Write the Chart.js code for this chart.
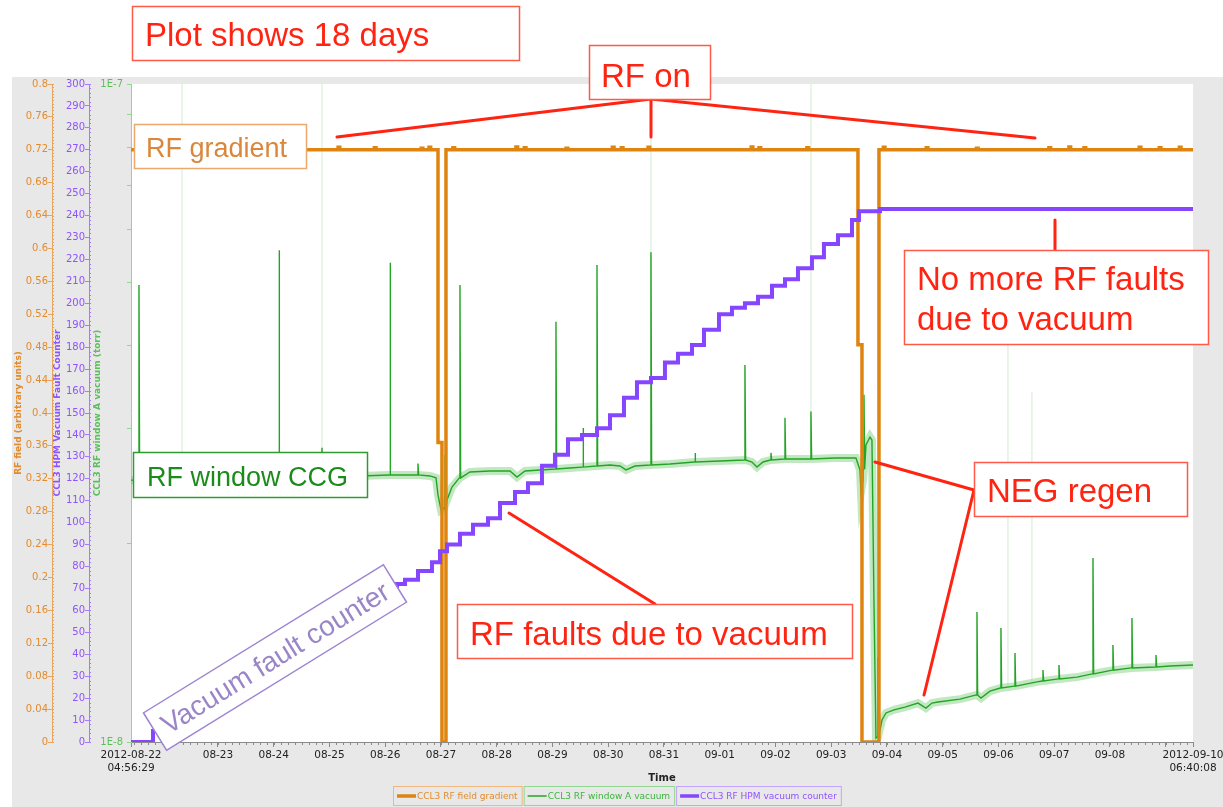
<!DOCTYPE html>
<html>
<head>
<meta charset="utf-8">
<title>CCL3 RF window vacuum – 18 days</title>
<script src="https://cdn.jsdelivr.net/npm/chart.js@4.4.1/dist/chart.umd.min.js"></script>
<style>
  html, body { margin: 0; padding: 0; background: #ffffff; }
  #wrap { position: relative; width: 1223px; height: 807px; }
</style>
</head>
<body>
<div id="wrap"><canvas id="vacChart" width="1223" height="807"></canvas></div>
<script>
// =============================================================================
// CCL3 RF window — gradient, window vacuum and HPM fault counter (18 days)
// x values are days since 2012-08-22 04:56:29
// =============================================================================

// ---------- x axis ----------
const X_MAX = 19.05;
const tickDays = [0, 1.56, 2.56, 3.56, 4.56, 5.56, 6.56, 7.56, 8.56, 9.56, 10.56,
                  11.56, 12.56, 13.56, 14.56, 15.56, 16.56, 17.56, 18.56, 19.05];
const tickLabels = [['2012-08-22', '04:56:29'], '08-23', '08-24', '08-25', '08-26', '08-27',
                    '08-28', '08-29', '08-30', '08-31', '09-01', '09-02', '09-03', '09-04',
                    '09-05', '09-06', '09-07', '09-08', '', ['2012-09-10', '06:40:08']];

// ---------- y axis ticks ----------
const rfTicks = [0, 0.04, 0.08, 0.12, 0.16, 0.2, 0.24, 0.28, 0.32, 0.36, 0.4,
                 0.44, 0.48, 0.52, 0.56, 0.6, 0.64, 0.68, 0.72, 0.76, 0.8];
const counterTicks = [0, 10, 20, 30, 40, 50, 60, 70, 80, 90, 100, 110, 120, 130, 140, 150,
                      160, 170, 180, 190, 200, 210, 220, 230, 240, 250, 260, 270, 280, 290, 300];
const vacTicks = [1e-8, 2e-8, 3e-8, 4e-8, 5e-8, 6e-8, 7e-8, 8e-8, 9e-8, 1e-7];

// ---------- CCL3 RF field gradient ----------
const rfDays  = [0, 5.507, 5.507, 5.578, 5.578, 5.650, 5.650, 13.040, 13.040, 13.112, 13.112, 13.417, 13.417, 19.05];
const rfField = [0.72, 0.72, 0.364, 0.364, 0, 0, 0.72, 0.72, 0.483, 0.483, 0, 0, 0.72, 0.72];
// little blips on the 0.72 plateau
const rfBumpDays = [3.73, 4.38, 5.22, 5.36, 5.79, 6.92, 7.07, 7.82, 8.65, 8.81, 9.29, 11.14,
                    11.28, 12.14, 13.51, 14.28, 15.18, 16.48, 16.84, 17.11, 18.10, 18.46, 18.82];
const rfBumpTop  = [0.723, 0.7225, 0.722, 0.723, 0.7225, 0.7235, 0.7225, 0.722, 0.723, 0.7225, 0.723, 0.7235,
                    0.7225, 0.7225, 0.723, 0.7225, 0.722, 0.7225, 0.7235, 0.7225, 0.723, 0.7225, 0.723];

// ---------- CCL3 RF window A vacuum (torr) ----------
const vacDays = [0, 0.879, 1.238, 2.655, 3.426, 4.108, 4.646, 5.148, 5.363, 5.471,
                 5.507, 5.561, 5.614, 5.668, 5.758, 5.901, 6.081, 6.439, 6.798, 6.924,
                 7.067, 7.336, 7.623, 7.874, 8.108, 8.359, 8.592, 8.771, 8.879, 9.040,
                 9.327, 9.668, 10.117, 10.565, 11.013, 11.139, 11.229, 11.336, 11.480, 11.731,
                 12.197, 12.628, 13.004, 13.076, 13.094, 13.130, 13.184, 13.256, 13.291, 13.327,
                 13.363, 13.399, 13.471, 13.543, 13.686, 13.883, 14.117, 14.260, 14.368, 14.475,
                 14.870, 15.175, 15.247, 15.408, 15.605, 15.857, 16.251, 16.359, 16.646, 16.969,
                 17.256, 17.614, 17.955, 18.386, 18.637, 19.05];
const vacTorr = [2.50e-8, 2.51e-8, 2.51e-8, 2.52e-8, 2.527e-8, 2.537e-8, 2.546e-8, 2.546e-8, 2.537e-8, 2.52e-8,
                 2.374e-8, 2.253e-8, 2.268e-8, 2.332e-8, 2.441e-8, 2.52e-8, 2.573e-8, 2.582e-8, 2.582e-8, 2.527e-8,
                 2.582e-8, 2.591e-8, 2.600e-8, 2.608e-8, 2.617e-8, 2.627e-8, 2.636e-8, 2.627e-8, 2.591e-8, 2.627e-8,
                 2.636e-8, 2.645e-8, 2.664e-8, 2.673e-8, 2.683e-8, 2.664e-8, 2.617e-8, 2.664e-8, 2.683e-8, 2.692e-8,
                 2.692e-8, 2.702e-8, 2.702e-8, 2.591e-8, 2.399e-8, 2.50e-8, 2.828e-8, 2.907e-8, 2.877e-8, 1.644e-8,
                 1.014e-8, 1.018e-8, 1.080e-8, 1.107e-8, 1.119e-8, 1.130e-8, 1.146e-8, 1.126e-8, 1.146e-8, 1.150e-8,
                 1.162e-8, 1.179e-8, 1.166e-8, 1.195e-8, 1.208e-8, 1.216e-8, 1.234e-8, 1.238e-8, 1.247e-8, 1.255e-8,
                 1.269e-8, 1.286e-8, 1.296e-8, 1.300e-8, 1.305e-8, 1.309e-8];
// pressure bursts (foot = level the burst starts from)
const spikeDays = [0.143, 2.655, 3.426, 4.646, 5.148, 5.632, 5.901, 7.623, 8.108, 8.359,
                   9.327, 10.117, 11.013, 11.480, 11.731, 12.197, 13.148, 13.399, 15.175, 15.605,
                   15.857, 16.359, 16.646, 17.256, 17.614, 17.955, 18.386];
const spikeFoot = [2.50e-8, 2.52e-8, 2.527e-8, 2.546e-8, 2.546e-8, 2.26e-8, 2.52e-8, 2.60e-8, 2.617e-8, 2.627e-8,
                   2.636e-8, 2.664e-8, 2.683e-8, 2.683e-8, 2.692e-8, 2.692e-8, 2.60e-8, 1.018e-8, 1.179e-8, 1.208e-8,
                   1.216e-8, 1.238e-8, 1.247e-8, 1.269e-8, 1.286e-8, 1.296e-8, 1.300e-8];
const spikeTop  = [4.95e-8, 5.59e-8, 2.80e-8, 5.35e-8, 2.65e-8, 2.73e-8, 4.95e-8, 4.35e-8, 3.00e-8, 5.31e-8,
                   5.55e-8, 2.75e-8, 3.74e-8, 2.75e-8, 3.11e-8, 3.18e-8, 3.37e-8, 1.346e-8, 1.576e-8, 1.49e-8,
                   1.365e-8, 1.286e-8, 1.309e-8, 1.904e-8, 1.404e-8, 1.543e-8, 1.356e-8];
// faint max-envelope excursions
const faintDays = [0.915, 3.426, 9.327, 12.197, 15.731, 16.161];
const faintFoot = [2.51e-8, 2.527e-8, 2.636e-8, 2.692e-8, 1.212e-8, 1.23e-8];
const faintTop  = [1e-7, 1e-7, 1e-7, 1e-7, 5.3e-8, 3.4e-8];

// ---------- CCL3 RF HPM vacuum counter ----------
const cntDays = [0, 0.395, 0.789, 1.238, 1.776, 2.314, 2.852, 3.390, 3.928, 4.377,
                 4.771, 4.915, 5.148, 5.399, 5.543, 5.668, 5.901, 6.135, 6.404, 6.619,
                 6.888, 7.121, 7.372, 7.605, 7.839, 8.090, 8.359, 8.592, 8.843, 9.076,
                 9.327, 9.578, 9.812, 10.063, 10.278, 10.547, 10.780, 11.013, 11.247, 11.498,
                 11.731, 11.964, 12.215, 12.430, 12.682, 12.933, 13.058, 13.435, 19.05];
const cntVals = [0, 5, 10, 18, 27, 36, 44, 52, 60, 66,
                 72, 74, 78, 82, 87, 90, 95, 99, 102, 109,
                 114, 118, 126, 131, 138, 140, 143, 149, 157, 164,
                 166, 173, 177, 181, 188, 195, 198, 200, 203, 208,
                 211, 216, 221, 227, 231, 238, 242, 243, 243];

// ---------- colours / fonts ----------
const ORANGE = '#de840f', ORANGE_TXT = '#e38b2c', ORANGE_AXIS = '#eba45c';
const PURPLE = '#8646ff', PURPLE_TXT = '#9152ff', PURPLE_AXIS = '#a77aff';
const GREEN = '#24a424', GREEN_TXT = '#5cbf5c', GREEN_AXIS = '#8fd88f';
const UI_FONT = '"DejaVu Sans", sans-serif';
const NOTE_FONT = '"Liberation Sans", Arial, sans-serif';
const RED = '#ff2412', RED_BOX = '#ff5a48';

// ==========================================
// 1. SERIES BUILDERS
// ==========================================

const zipPts = (xs, ys) => xs.map((x, i) => ({ x, y: ys[i] }));
const byX = (a, b) => a.x - b.x;

const rfPts = zipPts(rfDays, rfField)
    .concat(rfBumpDays.flatMap((d, i) => [
        { x: d - 0.015, y: 0.72 }, { x: d - 0.015, y: rfBumpTop[i] },
        { x: d + 0.015, y: rfBumpTop[i] }, { x: d + 0.015, y: 0.72 }
    ]))
    .sort(byX);

const vacBand = zipPts(vacDays, vacTorr);
const vacPts = vacBand
    .concat(spikeDays.flatMap((d, i) => [
        { x: d - 0.012, y: spikeFoot[i] }, { x: d, y: spikeTop[i] }, { x: d + 0.012, y: spikeFoot[i] }
    ]))
    .sort(byX);
const faintPts = faintDays.flatMap((d, i) => [
    { x: d, y: faintFoot[i] }, { x: d, y: faintTop[i] }, { x: d, y: null }
]);
const cntPts = zipPts(cntDays, cntVals);

// ==========================================
// 2. PLUGINS (backdrop, minor ticks, legend, notes)
// ==========================================

const backdropPlugin = {
    id: 'backdrop',
    beforeDraw(chart) {
        const { ctx, chartArea: a } = chart;
        ctx.save();
        ctx.fillStyle = '#ffffff';
        ctx.fillRect(0, 0, chart.width, chart.height);
        ctx.fillStyle = '#e8e8e8';
        ctx.fillRect(12, 77, chart.width - 12, chart.height - 77);
        ctx.fillStyle = '#ffffff';
        ctx.fillRect(a.left, a.top, a.right - a.left, a.bottom - a.top);
        ctx.restore();
    }
};

const minorTickPlugin = {
    id: 'minorTicks',
    afterDraw(chart) {
        const { ctx, scales } = chart;
        const line = (x1, y1, x2, y2) => { ctx.beginPath(); ctx.moveTo(x1, y1); ctx.lineTo(x2, y2); ctx.stroke(); };
        ctx.save();
        ctx.lineWidth = 1;

        ctx.strokeStyle = '#8a8a8a';
        for (let k = -12; tickDays[1] + k * 0.125 <= X_MAX; k++) {
            const px = Math.round(scales.x.getPixelForValue(tickDays[1] + k * 0.125)) + 0.5;
            line(px, scales.x.top, px, scales.x.top + 3);
        }
        ctx.strokeStyle = ORANGE_AXIS;
        for (let k = 0; k <= 200; k++) {
            const py = Math.round(scales.rf.getPixelForValue(k * 0.004)) + 0.5;
            line(scales.rf.right, py, scales.rf.right + 2, py);
        }
        ctx.strokeStyle = PURPLE_AXIS;
        for (let k = 0; k <= 150; k++) {
            const py = Math.round(scales.cnt.getPixelForValue(k * 2)) + 0.5;
            line(scales.cnt.right, py, scales.cnt.right + 2, py);
        }
        ctx.restore();
    }
};

const legendItems = [
    { ds: 1, width: 3.5, txt: ORANGE_TXT, box: '#f2b77e' },
    { ds: 2, width: 1.5, txt: '#3db43d', box: '#92d892' },
    { ds: 0, width: 3.5, txt: PURPLE_TXT, box: '#c4a4ff' }
];

const boxedLegendPlugin = {
    id: 'boxedLegend',
    afterDraw(chart) {
        const { ctx } = chart;
        ctx.save();
        ctx.font = `9px ${UI_FONT}`;
        ctx.textBaseline = 'middle';
        const items = legendItems.map(it => {
            const ds = chart.data.datasets[it.ds];
            const w = 4 + 19 + 1 + ctx.measureText(ds.label).width + 4;
            return { ...it, ds, w };
        });
        const total = items.reduce((s, it) => s + it.w, 0) + (items.length - 1) * 2;
        let x = Math.round(617 - total / 2);
        const y = 786, h = 19;
        items.forEach(it => {
            ctx.strokeStyle = it.box;
            ctx.lineWidth = 1;
            ctx.strokeRect(x + 0.5, y + 0.5, it.w, h);
            ctx.strokeStyle = it.ds.borderColor;
            ctx.lineWidth = it.width;
            ctx.beginPath();
            ctx.moveTo(x + 4, y + h / 2 + 0.5);
            ctx.lineTo(x + 23, y + h / 2 + 0.5);
            ctx.stroke();
            ctx.fillStyle = it.txt;
            ctx.fillText(it.ds.label, x + 24, y + h / 2 + 1);
            x += it.w + 2;
        });
        ctx.restore();
    }
};

const notes = [
    { x: 132, y: 6, w: 387, h: 54, lines: ['Plot shows 18 days'], tx: 145, ty: [46], size: 33, color: RED, border: RED_BOX },
    { x: 589, y: 45, w: 121, h: 54, lines: ['RF on'], tx: 601, ty: [87], size: 33, color: RED, border: RED_BOX },
    { x: 134, y: 124, w: 172, h: 44, lines: ['RF gradient'], tx: 146, ty: [157], size: 27, color: '#d9873c', border: '#eca86a' },
    { x: 904, y: 250, w: 304, h: 94, lines: ['No more RF faults', 'due to vacuum'], tx: 917, ty: [290, 330], size: 33, color: RED, border: RED_BOX },
    { x: 133, y: 452, w: 234, h: 45, lines: ['RF window CCG'], tx: 147, ty: [486], size: 27, color: '#1b8c1b', border: '#2e9c2e' },
    { x: 457, y: 604, w: 395, h: 54, lines: ['RF faults due to vacuum'], tx: 470, ty: [645], size: 33, color: RED, border: RED_BOX },
    { x: 974, y: 462, w: 213, h: 54, lines: ['NEG regen'], tx: 987, ty: [502], size: 33, color: RED, border: RED_BOX }
];
const pointers = [
    [337, 137, 651, 99], [651, 99, 1035, 138], [651, 99, 651, 137], [1055, 220, 1055, 250],
    [509, 513, 655, 604], [875, 462, 974, 490], [974, 490, 924, 695]
];

const notesPlugin = {
    id: 'notes',
    afterDraw(chart) {
        const { ctx } = chart;
        ctx.save();
        ctx.strokeStyle = RED;
        ctx.lineWidth = 3;
        ctx.lineCap = 'round';
        pointers.forEach(([x1, y1, x2, y2]) => {
            ctx.beginPath(); ctx.moveTo(x1, y1); ctx.lineTo(x2, y2); ctx.stroke();
        });

        ctx.lineCap = 'butt';
        notes.forEach(n => {
            ctx.fillStyle = '#ffffff';
            ctx.fillRect(n.x, n.y, n.w, n.h);
            ctx.strokeStyle = n.border;
            ctx.lineWidth = 1.5;
            ctx.strokeRect(n.x + 0.5, n.y + 0.5, n.w, n.h);
            ctx.fillStyle = n.color;
            ctx.font = `${n.size}px ${NOTE_FONT}`;
            ctx.textBaseline = 'alphabetic';
            n.lines.forEach((t, i) => ctx.fillText(t, n.tx, n.ty[i]));
        });

        // rotated "Vacuum fault counter" tag
        ctx.translate(275, 657.5);
        ctx.rotate(-31.7 * Math.PI / 180);
        ctx.fillStyle = '#ffffff';
        ctx.fillRect(-141, -22, 282, 44);
        ctx.strokeStyle = '#9d84d2';
        ctx.lineWidth = 1.5;
        ctx.strokeRect(-141, -22, 282, 44);
        ctx.fillStyle = '#9a86c6';
        ctx.font = `28px ${NOTE_FONT}`;
        ctx.textAlign = 'center';
        ctx.textBaseline = 'middle';
        ctx.fillText('Vacuum fault counter', 0, 2);
        ctx.restore();
    }
};

// ==========================================
// 3. CHART
// ==========================================

const leftAxis = (color, txt, title, width, weight, titlePad) => ({
    position: 'left',
    weight,
    afterFit: (s) => { s.width = width; s.paddingTop = 0; s.paddingBottom = 0; },
    grid: { drawOnChartArea: false, tickLength: 4, color },
    border: { color },
    ticks: { color: txt, padding: 0, font: { family: UI_FONT, size: 10 } },
    title: { display: true, text: title, color: txt, padding: { top: titlePad, bottom: 0 },
             font: { family: UI_FONT, size: 9, weight: 'bold' } }
});

const rfAxis = leftAxis(ORANGE_AXIS, ORANGE_TXT, 'RF field (arbitrary units)', 40, 2, 1);
Object.assign(rfAxis, {
    type: 'linear', min: 0, max: 0.8,
    afterBuildTicks: (s) => { s.ticks = rfTicks.map(value => ({ value })); }
});
rfAxis.ticks.callback = (v) => String(+v.toFixed(2));

const cntAxis = leftAxis(PURPLE_AXIS, PURPLE_TXT, 'CCL3 HPM Vacuum Fault Counter', 37, 1, 0);
Object.assign(cntAxis, {
    type: 'linear', min: 0, max: 300,
    afterBuildTicks: (s) => { s.ticks = counterTicks.map(value => ({ value })); }
});
cntAxis.ticks.callback = (v) => String(v);

const vacAxis = leftAxis(GREEN_AXIS, GREEN_TXT, 'CCL3 RF window A vacuum (torr)', 42, 0, 3);
Object.assign(vacAxis, {
    type: 'logarithmic', min: 1e-8, max: 1e-7,
    afterBuildTicks: (s) => { s.ticks = vacTicks.map(value => ({ value })); }
});
vacAxis.ticks.padding = 4;
vacAxis.ticks.callback = (v) => {
    const e = Math.log10(v);
    return Math.abs(e - Math.round(e)) < 1e-6 ? '1E' + Math.round(e) : '';
};

new Chart(document.getElementById('vacChart'), {
    type: 'line',
    data: {
        datasets: [
            { label: 'CCL3 RF HPM vacuum counter', data: cntPts, yAxisID: 'cnt',
              borderColor: PURPLE, borderWidth: 4, stepped: 'before', borderJoinStyle: 'miter' },
            { label: 'CCL3 RF field gradient', data: rfPts, yAxisID: 'rf',
              borderColor: ORANGE, borderWidth: 3.5, borderJoinStyle: 'miter' },
            { label: 'CCL3 RF window A vacuum', data: vacPts, yAxisID: 'vac',
              borderColor: GREEN, borderWidth: 1.4 },
            { label: 'envelope', data: faintPts, yAxisID: 'vac', spanGaps: false,
              borderColor: 'rgba(140, 210, 140, 0.4)', borderWidth: 1 },
            { label: 'band', data: vacBand, yAxisID: 'vac',
              borderColor: 'rgba(120, 205, 120, 0.45)', borderWidth: 8 }
        ]
    },
    options: {
        responsive: false,
        animation: false,
        events: [],
        parsing: true,
        elements: { point: { radius: 0 }, line: { tension: 0, fill: false } },
        layout: { padding: { left: 12, right: 30, top: 84, bottom: 21 } },
        plugins: { legend: { display: false }, tooltip: { enabled: false } },
        scales: {
            x: {
                type: 'linear', min: 0, max: X_MAX,
                afterBuildTicks: (s) => { s.ticks = tickDays.map(value => ({ value })); },
                afterFit: (s) => { s.height = 44; s.paddingLeft = 0; s.paddingRight = 0; },
                grid: { drawOnChartArea: false, tickLength: 5, color: '#8a8a8a' },
                border: { color: '#8a8a8a' },
                ticks: { autoSkip: false, maxRotation: 0, padding: 2, color: '#222222',
                         font: { family: UI_FONT, size: 10.5 },
                         callback: (v, i) => tickLabels[i] },
                title: { display: true, text: 'Time', color: '#222222', padding: { top: 0, bottom: 2 },
                         font: { family: UI_FONT, size: 10, weight: 'bold' } }
            },
            rf: rfAxis,
            cnt: cntAxis,
            vac: vacAxis
        }
    },
    plugins: [backdropPlugin, minorTickPlugin, boxedLegendPlugin, notesPlugin]
});
</script>
</body>
</html>
